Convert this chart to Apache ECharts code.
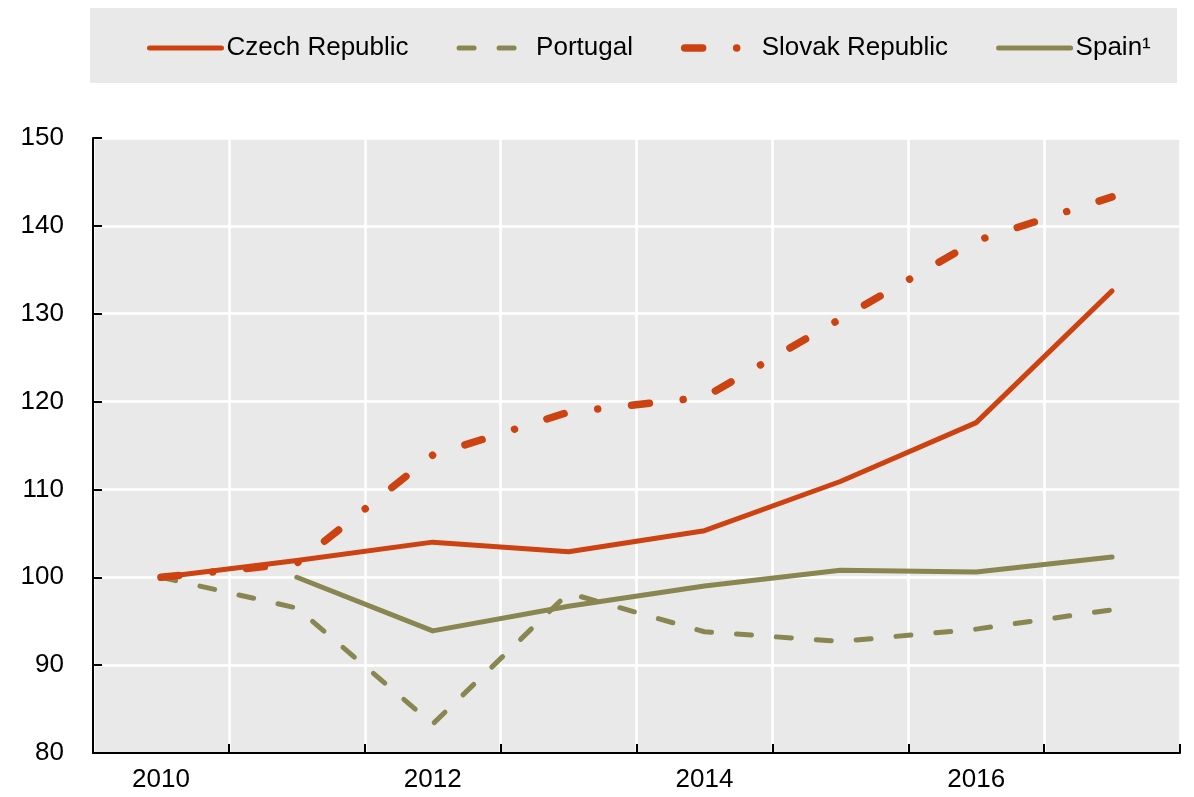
<!DOCTYPE html>
<html>
<head>
<meta charset="utf-8">
<script src="https://cdn.jsdelivr.net/npm/echarts@6/dist/echarts.min.js"></script>
<style>
  html, body { margin: 0; padding: 0; background: #ffffff; }
  #chart { width: 1194px; height: 797px; }
</style>
</head>
<body>
<div id="chart"></div>
<script>
const years = ['2010', '2011', '2012', '2013', '2014', '2015', '2016', '2017'];
const czech = [100, 101.9, 104.0, 102.9, 105.3, 110.9, 117.6, 132.6];
const portugal = [100, 96.5, 83.3, 98.2, 93.8, 92.7, 94.1, 96.3];
const slovak = [100, 101.6, 113.9, 118.8, 120.5, 129.4, 138.3, 143.3];
const spain = [null, 100, 93.9, 96.7, 99.0, 100.8, 100.6, 102.3];
const yTicks = { min: 80, max: 150, interval: 10 };

const RED = '#CC4210';
const OLIVE = '#898651';
const FONT = "'Liberation Sans Narrow', 'Arial Narrow', 'Liberation Sans', Arial, sans-serif";

const chart = echarts.init(document.getElementById('chart'), null, { renderer: 'canvas' });
chart.setOption({
  animation: false,
  backgroundColor: '#ffffff',
  textStyle: { fontFamily: FONT },
  graphic: [{
    type: 'rect', z: 0,
    shape: { x: 90, y: 8, width: 1087, height: 75 },
    style: { fill: '#e9e9e9' }
  }],
  legend: {
    left: 142, top: 30, width: 1040,
    itemWidth: 72, itemHeight: 14, itemGap: 48,
    itemStyle: { opacity: 0 },
    lineStyle: { width: 'inherit' },
    textStyle: { fontFamily: FONT, fontSize: 26, color: '#000' },
    data: ['Czech Republic', 'Portugal', 'Slovak Republic', 'Spain¹']
  },
  grid: {
    left: 93, right: 14, top: 138, bottom: 44,
    show: true, backgroundColor: '#e9e9e9', borderWidth: 0
  },
  xAxis: {
    type: 'category', data: years, boundaryGap: true,
    axisLine: { lineStyle: { color: '#000', width: 2 } },
    axisTick: { show: true, inside: true, length: 9, interval: 0, lineStyle: { color: '#000', width: 2 } },
    axisLabel: { interval: 1, color: '#000', fontSize: 26, fontFamily: FONT, margin: 14 },
    splitLine: { show: true, interval: 0, lineStyle: { color: '#ffffff', width: 2.5 } }
  },
  yAxis: {
    type: 'value', min: yTicks.min, max: yTicks.max, interval: yTicks.interval,
    axisLine: { show: true, lineStyle: { color: '#000', width: 2 } },
    axisTick: { show: true, inside: true, length: 9, lineStyle: { color: '#000', width: 2 } },
    axisLabel: { color: '#000', fontSize: 26, fontFamily: FONT, margin: 29 },
    splitLine: { show: true, lineStyle: { color: '#ffffff', width: 2.5 } }
  },
  series: [
    {
      name: 'Czech Republic', type: 'line', data: czech, symbol: 'none', z: 5,
      itemStyle: { color: RED },
      lineStyle: { color: RED, width: 5, cap: 'round', join: 'round' }
    },
    {
      name: 'Portugal', type: 'line', data: portugal, symbol: 'none', z: 3,
      itemStyle: { color: OLIVE },
      lineStyle: { color: OLIVE, width: 5, type: [15, 25], cap: 'round', join: 'round' }
    },
    {
      name: 'Slovak Republic', type: 'line', data: slovak, symbol: 'none', z: 4,
      itemStyle: { color: RED },
      lineStyle: { color: RED, width: 7.5, type: [18, 34, 0.01, 34], cap: 'round', join: 'round' }
    },
    {
      name: 'Spain¹', type: 'line', data: spain, symbol: 'none', z: 3,
      itemStyle: { color: OLIVE },
      lineStyle: { color: OLIVE, width: 5, cap: 'round', join: 'round' }
    }
  ]
});
</script>
</body>
</html>
